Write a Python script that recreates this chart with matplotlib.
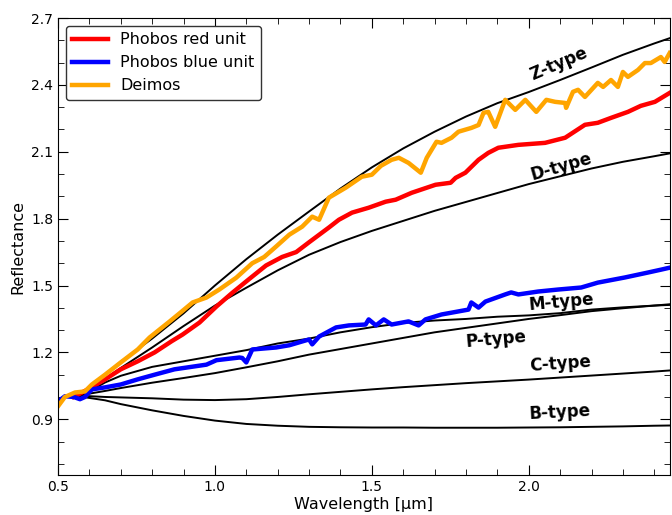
#!/usr/bin/env python

import numpy as np
import matplotlib
matplotlib.use('Agg')
import matplotlib.pyplot as plt
from matplotlib.ticker import MultipleLocator

# Phobos red unit
red_wl = [0.55, 0.595, 0.65, 0.70, 0.754, 0.808, 0.862, 0.897, 0.951, 1.005, 1.056, 1.11,
          1.163, 1.214, 1.259, 1.30, 1.363, 1.395, 1.437, 1.49, 1.544, 1.576, 1.627, 1.703,
          1.751, 1.767, 1.798, 1.84, 1.871, 1.903, 1.967, 2.052, 2.116, 2.179, 2.22, 2.262,
          2.316, 2.357, 2.402, 2.449]
red_refl = [1.0, 1.034, 1.079, 1.124, 1.16, 1.20, 1.25, 1.28, 1.334, 1.406, 1.468, 1.53,
            1.59, 1.628, 1.65, 1.694, 1.76, 1.795, 1.827, 1.849, 1.876, 1.885, 1.916, 1.952,
            1.961, 1.983, 2.006, 2.064, 2.095, 2.118, 2.131, 2.14, 2.163, 2.221, 2.23, 2.252,
            2.279, 2.306, 2.324, 2.364]

# Phobos blue unit
blue_wl = [0.5, 0.522, 0.55, 0.57, 0.586, 0.608, 0.65, 0.70, 0.754, 0.808, 0.871, 0.973,
           1.005, 1.078, 1.087, 1.1, 1.119, 1.195, 1.237, 1.278, 1.30, 1.31, 1.332, 1.386,
           1.427, 1.48, 1.49, 1.513, 1.538, 1.563, 1.617, 1.649, 1.671, 1.722, 1.808, 1.817,
           1.84, 1.862, 1.925, 1.944, 1.967, 2.03, 2.094, 2.167, 2.22, 2.306, 2.379, 2.421,
           2.449]
blue_refl = [0.98, 1.003, 1.0, 0.99, 1.0, 1.034, 1.043, 1.056, 1.079, 1.10, 1.124, 1.145,
             1.165, 1.177, 1.175, 1.155, 1.213, 1.222, 1.232, 1.249, 1.258, 1.236, 1.271, 1.312,
             1.321, 1.325, 1.348, 1.321, 1.348, 1.325, 1.339, 1.321, 1.348, 1.37, 1.392, 1.424,
             1.401, 1.428, 1.46, 1.469, 1.46, 1.473, 1.482, 1.491, 1.513, 1.536, 1.558, 1.571,
             1.58]

# Deimos
deimos_wl = [0.5, 0.522, 0.554, 0.586, 0.608, 0.65, 0.70, 0.754, 0.792, 0.856, 0.894, 0.929,
             0.973, 1.014, 1.068, 1.119, 1.157, 1.195, 1.237, 1.278, 1.31, 1.332, 1.363, 1.417,
             1.468, 1.5, 1.529, 1.563, 1.586, 1.617, 1.656, 1.675, 1.706, 1.722, 1.754, 1.776,
             1.817, 1.84, 1.856, 1.871, 1.893, 1.925, 1.957, 1.989, 2.024, 2.056, 2.084, 2.116,
             2.119, 2.141, 2.157, 2.179, 2.22, 2.237, 2.262, 2.284, 2.30, 2.316, 2.348, 2.37,
             2.389, 2.421, 2.433, 2.449]
deimos_refl = [0.958, 1.0, 1.02, 1.025, 1.056, 1.10, 1.155, 1.213, 1.267, 1.339, 1.383, 1.424,
               1.446, 1.482, 1.535, 1.60, 1.628, 1.675, 1.728, 1.764, 1.809, 1.795, 1.894, 1.939,
               1.988, 1.997, 2.037, 2.064, 2.073, 2.05, 2.006, 2.073, 2.145, 2.14, 2.163, 2.19,
               2.207, 2.22, 2.275, 2.279, 2.212, 2.333, 2.288, 2.333, 2.279, 2.333, 2.324, 2.319,
               2.297, 2.369, 2.378, 2.346, 2.409, 2.391, 2.422, 2.391, 2.458, 2.436, 2.467, 2.498,
               2.498, 2.525, 2.503, 2.543]

# taxonomic type spectra
type_wl = [0.55, 0.58, 0.65, 0.7, 0.8, 0.9, 1.0, 1.1, 1.2, 1.3, 1.4, 1.5, 1.6, 1.7, 1.8,
           1.9, 2.0, 2.1, 2.2, 2.3, 2.4, 2.45]
type_names = ['Z-type', 'D-type', 'M-type', 'P-type', 'C-type', 'B-type']
z_refl = [1.0, 1.01, 1.1, 1.158, 1.262, 1.375, 1.50, 1.618, 1.728, 1.832, 1.935, 2.03,
          2.115, 2.19, 2.258, 2.318, 2.368, 2.422, 2.478, 2.535, 2.586, 2.61]
d_refl = [1.0, 1.01, 1.08, 1.13, 1.222, 1.318, 1.41, 1.49, 1.568, 1.638, 1.695, 1.745,
          1.79, 1.835, 1.875, 1.915, 1.955, 1.99, 2.025, 2.055, 2.08, 2.093]
m_refl = [1.0, 1.01, 1.065, 1.095, 1.135, 1.16, 1.185, 1.21, 1.24, 1.262, 1.29, 1.313,
          1.332, 1.343, 1.35, 1.36, 1.366, 1.376, 1.392, 1.402, 1.41, 1.413]
p_refl = [1.0, 1.01, 1.027, 1.04, 1.064, 1.085, 1.107, 1.133, 1.16, 1.19, 1.215, 1.24,
          1.265, 1.29, 1.31, 1.33, 1.35, 1.367, 1.385, 1.398, 1.41, 1.416]
c_refl = [1.0, 1.005, 1.0, 0.998, 0.994, 0.988, 0.986, 0.99, 1.0, 1.012, 1.023, 1.034,
          1.044, 1.053, 1.062, 1.07, 1.078, 1.087, 1.096, 1.105, 1.114, 1.119]
b_refl = [1.0, 1.0, 0.985, 0.968, 0.94, 0.915, 0.894, 0.879, 0.871, 0.866, 0.864, 0.863,
          0.863, 0.862, 0.862, 0.862, 0.863, 0.864, 0.866, 0.868, 0.871, 0.872]

# label positions / angles
label_x = [2.094, 2.103, 2.103, 1.897, 2.10, 2.10]
label_y = [2.495, 2.035, 1.424, 1.258, 1.15, 0.93]
label_rot = [23, 16, 5, 5, 4, 3]


def main():
    fig = plt.figure(figsize=(6.72, 5.15), dpi=100)
    ax = fig.add_axes([0.0863, 0.0777, 0.9107, 0.8873])

    for refl in [z_refl, d_refl, m_refl, p_refl, c_refl, b_refl]:
        ax.plot(type_wl, refl, color='black', lw=1.4)

    ax.plot(red_wl, red_refl, color='red', lw=3.2, label='Phobos red unit')
    ax.plot(blue_wl, blue_refl, color='blue', lw=3.2, label='Phobos blue unit')
    ax.plot(deimos_wl, deimos_refl, color='orange', lw=3.2, label='Deimos')

    for name, lx, ly, rot in zip(type_names, label_x, label_y, label_rot):
        ax.text(lx, ly, name, fontsize=12, fontweight='bold', rotation=rot,
                ha='center', va='center', rotation_mode='anchor')

    ax.set_xlim(0.5, 2.45)
    ax.set_ylim(0.65, 2.7)
    ax.xaxis.set_major_locator(MultipleLocator(0.5))
    ax.xaxis.set_minor_locator(MultipleLocator(0.1))
    ax.yaxis.set_minor_locator(MultipleLocator(0.1))
    ax.set_yticks([0.9, 1.2, 1.5, 1.8, 2.1, 2.4, 2.7])
    ax.tick_params(which='both', direction='in', top=True, right=True, labelsize=10)
    ax.tick_params(which='major', length=7)
    ax.tick_params(which='minor', length=4)

    ax.set_xlabel('Wavelength [µm]', fontsize=11.5, labelpad=2)
    ax.set_ylabel('Reflectance', fontsize=11.5)

    leg = ax.legend(loc='upper left', fontsize=11.5, handlelength=2.2)
    leg.get_frame().set_edgecolor('#333333')
    leg.get_frame().set_alpha(1)

    fig.savefig('out.png', dpi=100)


if __name__ == '__main__':
    main()
